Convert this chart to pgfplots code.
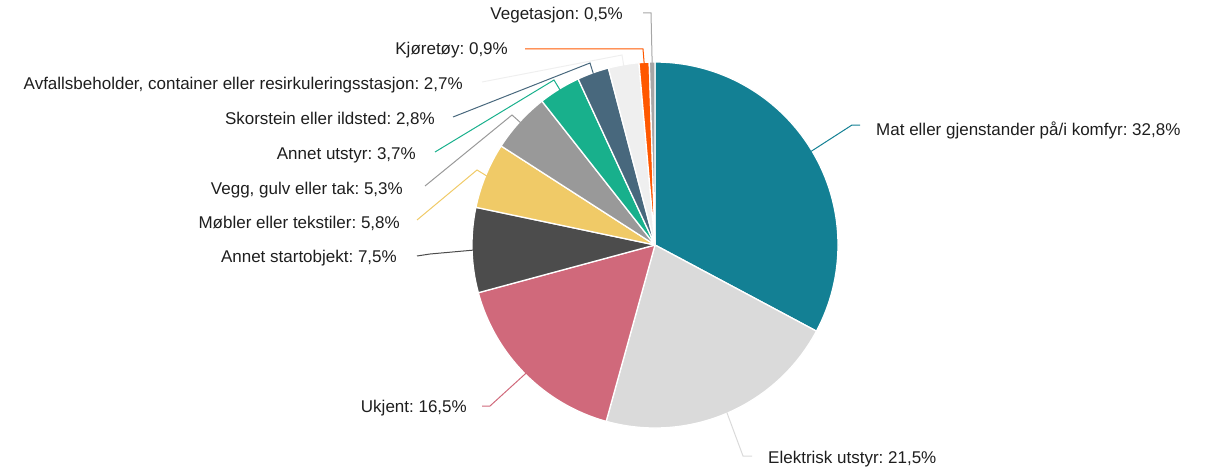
\documentclass[border=0pt]{standalone}
\usepackage{fontspec}
\setmainfont{Liberation Sans}
\usepackage{pgfplots}
\usepackage{pgfplotstable}
\pgfplotsset{compat=1.18}
\frenchspacing

\definecolor{pc0}{HTML}{138094}
\definecolor{pc1}{HTML}{DADADA}
\definecolor{pc2}{HTML}{D0697B}
\definecolor{pc3}{HTML}{4C4C4C}
\definecolor{pc4}{HTML}{F0CA67}
\definecolor{pc5}{HTML}{999999}
\definecolor{pc6}{HTML}{18B08C}
\definecolor{pc7}{HTML}{48687D}
\definecolor{pc8}{HTML}{EFEFEF}
\definecolor{pc9}{HTML}{FF5800}
\definecolor{pc10}{HTML}{A6A6A6}
\definecolor{txt}{HTML}{1E1E1E}

% name; value (%); label x,y (baseline); line start x,y; line bend x,y  (pixel coordinates, y downwards)
\pgfplotstableread[col sep=semicolon]{
name;value;lx;ly;sx;sy;kx;ky
Mat eller gjenstander på/i komfyr;32.8;876;135;860;125;852;125
Elektrisk utstyr;21.5;768;463;752;456;743;456
Ukjent;16.5;467;412;482;406;490;406
Annet startobjekt;7.5;397;262;417;256;430;254
Møbler eller tekstiler;5.8;400;228;417;220;477;170
Vegg, gulv eller tak;5.3;403;194;425;186;512;115
Annet utstyr;3.7;416;159;435;152;554;80
Skorstein eller ildsted;2.8;435;124;453;117;590;63
Avfallsbeholder, container eller resirkuleringsstasjon;2.7;463;90;482;82;622;55
Kjøretøy;0.9;508;55;525;49;643;49
Vegetasjon;0.5;623;20;643;13;651;13
}\piedata

\begin{document}
\begin{tikzpicture}
\gdef\cum{0}%
\foreach \i in {0,...,10}{%
  \pgfplotstablegetelem{\i}{name}\of\piedata\expandafter\xdef\csname t\i\endcsname{\pgfplotsretval}%
  \pgfplotstablegetelem{\i}{lx}\of\piedata\expandafter\xdef\csname lx\i\endcsname{\pgfplotsretval}%
  \pgfplotstablegetelem{\i}{ly}\of\piedata\expandafter\xdef\csname ly\i\endcsname{\pgfplotsretval}%
  \pgfplotstablegetelem{\i}{sx}\of\piedata\expandafter\xdef\csname sx\i\endcsname{\pgfplotsretval}%
  \pgfplotstablegetelem{\i}{sy}\of\piedata\expandafter\xdef\csname sy\i\endcsname{\pgfplotsretval}%
  \pgfplotstablegetelem{\i}{kx}\of\piedata\expandafter\xdef\csname kx\i\endcsname{\pgfplotsretval}%
  \pgfplotstablegetelem{\i}{ky}\of\piedata\expandafter\xdef\csname ky\i\endcsname{\pgfplotsretval}%
  \pgfplotstablegetelem{\i}{value}\of\piedata\expandafter\xdef\csname v\i\endcsname{\pgfplotsretval}%
  \pgfmathsetmacro\tmpS{90-3.6*\cum}%
  \pgfmathsetmacro\tmpN{\cum+\pgfplotsretval}%
  \pgfmathsetmacro\tmpE{90-3.6*\tmpN}%
  \pgfmathsetmacro\tmpM{(\tmpS+\tmpE)/2}%
  \expandafter\xdef\csname aS\i\endcsname{\tmpS}%
  \expandafter\xdef\csname aE\i\endcsname{\tmpE}%
  \expandafter\xdef\csname aM\i\endcsname{\tmpM}%
  \xdef\cum{\tmpN}%
}%
\begin{axis}[scale only axis, width=1206bp, height=469bp,
  xmin=0, xmax=1206, ymin=0, ymax=469, y dir=reverse,
  hide axis, clip=false]
\path (axis cs:0,0) rectangle (axis cs:1206,469);
\pgfplotsinvokeforeach{0,...,10}{%
  \edef\doslice{\noexpand\fill[pc#1, draw=white, line width=1.3bp, line join=round]
    (axis cs:655,245) -- ++(\csname aS#1\endcsname:183bp)
    arc[start angle=\csname aS#1\endcsname, end angle=\csname aE#1\endcsname, radius=183bp] -- cycle;}%
  \doslice
  \edef\doline{\noexpand\draw[pc#1, line width=1bp]
    (axis cs:655,245) ++(\csname aM#1\endcsname:182bp)
    -- (axis cs:\csname kx#1\endcsname,\csname ky#1\endcsname)
    -- (axis cs:\csname sx#1\endcsname,\csname sy#1\endcsname);}%
  \doline
}
\pgfplotsinvokeforeach{0,1}{%
  \edef\dolabel{\noexpand\node[anchor=base west, text=txt, inner sep=0pt, font=\noexpand\fontsize{17bp}{20bp}\noexpand\selectfont]
    at (axis cs:\csname lx#1\endcsname,\csname ly#1\endcsname)
    {\csname t#1\endcsname: \noexpand\pgfmathprintnumber[fixed, fixed zerofill, precision=1, use comma, assume math mode=true]{\csname v#1\endcsname}\noexpand\%};}%
  \dolabel
}
\pgfplotsinvokeforeach{2,...,10}{%
  \edef\dolabel{\noexpand\node[anchor=base east, text=txt, inner sep=0pt, font=\noexpand\fontsize{17bp}{20bp}\noexpand\selectfont]
    at (axis cs:\csname lx#1\endcsname,\csname ly#1\endcsname)
    {\csname t#1\endcsname: \noexpand\pgfmathprintnumber[fixed, fixed zerofill, precision=1, use comma, assume math mode=true]{\csname v#1\endcsname}\noexpand\%};}%
  \dolabel
}
\end{axis}
\end{tikzpicture}
\end{document}
